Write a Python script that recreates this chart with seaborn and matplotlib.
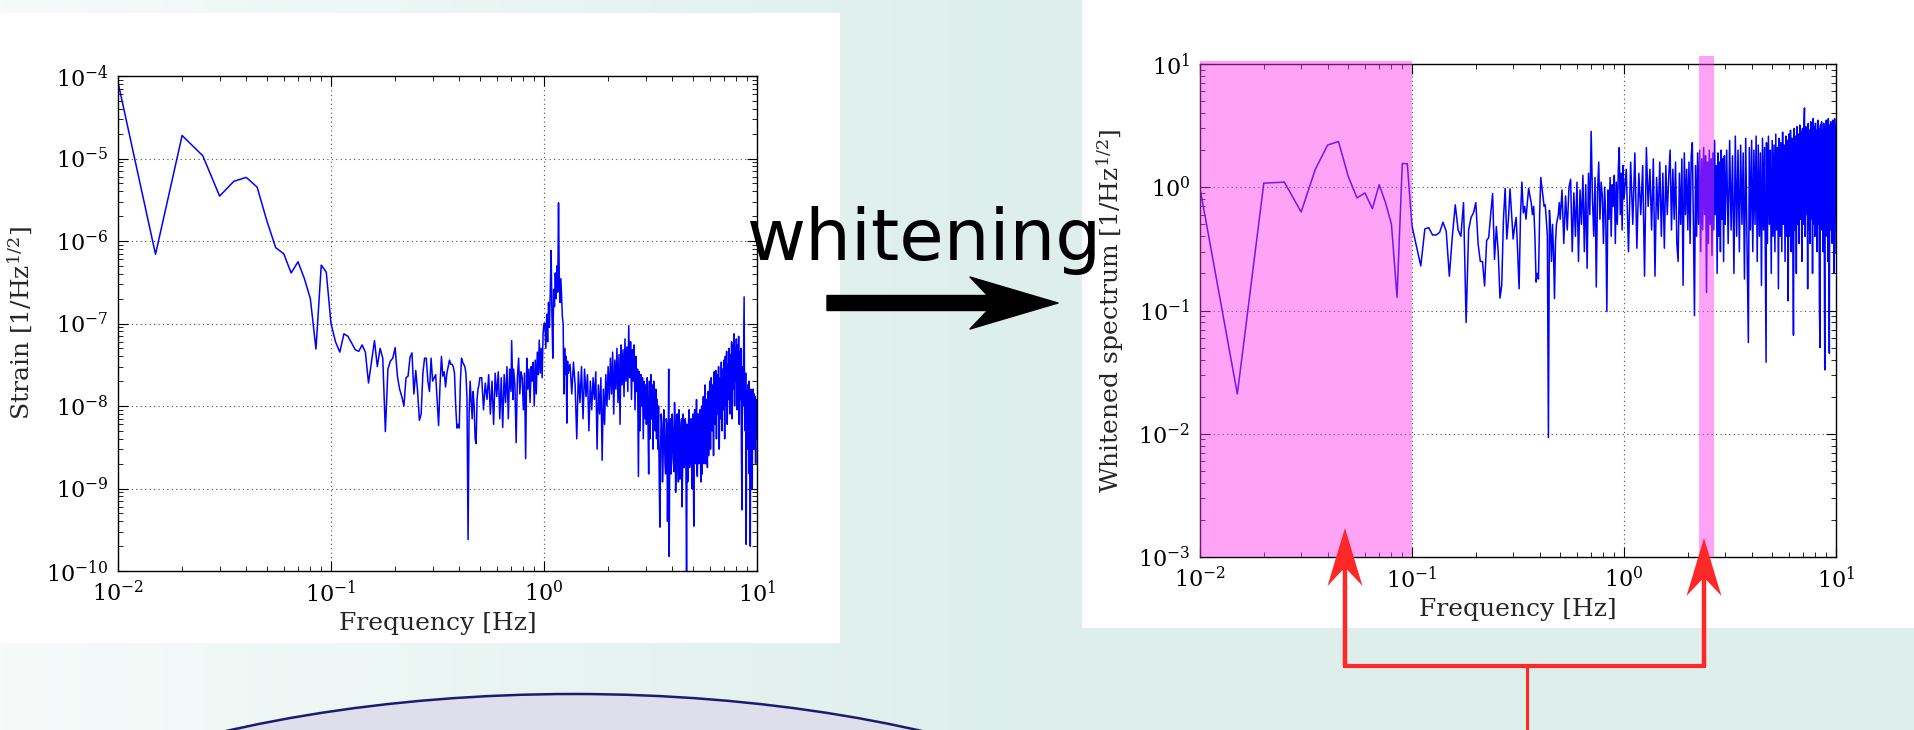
import numpy as np
import pandas as pd
import matplotlib
matplotlib.use("Agg")
import matplotlib.pyplot as plt
import seaborn as sns
from matplotlib.patches import Rectangle, Ellipse, FancyArrow
from matplotlib.ticker import LogLocator

# ----------------------------
# Data: (frequency [Hz], amplitude)
# ----------------------------
strain_low = [
    (0.010, 8.4e-5), (0.015, 6.9e-7), (0.020, 1.9e-5), (0.025, 1.08e-5), (0.030, 3.5e-6),
    (0.035, 5.3e-6), (0.040, 5.9e-6), (0.045, 4.5e-6), (0.050, 1.75e-6), (0.055, 8.3e-7),
    (0.060, 7.0e-7), (0.065, 4.1e-7), (0.070, 5.6e-7), (0.075, 3.5e-7), (0.080, 2.0e-7),
    (0.085, 4.9e-8), (0.090, 5.1e-7), (0.095, 4.2e-7), (0.100, 1.0e-7), (0.105, 6.0e-8),
    (0.110, 4.5e-8), (0.115, 7.5e-8), (0.120, 7.0e-8), (0.125, 5.8e-8), (0.130, 4.8e-8),
    (0.135, 4.6e-8), (0.140, 5.5e-8), (0.145, 4.5e-8), (0.150, 1.9e-8), (0.155, 3.5e-8),
    (0.160, 6.2e-8), (0.165, 3.0e-8), (0.170, 5.0e-8), (0.175, 3.8e-8), (0.180, 4.9e-9),
    (0.185, 2.8e-8), (0.190, 3.5e-8), (0.195, 3.8e-8), (0.200, 5.1e-8), (0.205, 2.3e-8),
    (0.210, 1.6e-8), (0.215, 1.3e-8), (0.220, 1.0e-8), (0.225, 2.2e-8), (0.230, 2.3e-8),
    (0.235, 3.9e-8), (0.240, 4.4e-8), (0.245, 1.4e-8), (0.250, 2.7e-8), (0.255, 1.5e-8),
    (0.260, 6.7e-9), (0.265, 8.0e-9), (0.270, 2.5e-8), (0.275, 3.8e-8), (0.280, 3.8e-8),
    (0.285, 2.0e-8), (0.290, 1.5e-8), (0.295, 3.8e-8), (0.300, 2.0e-8), (0.305, 2.2e-8),
    (0.310, 2.4e-8), (0.315, 1.2e-8), (0.320, 5.8e-9), (0.325, 1.8e-8), (0.330, 4.0e-8),
    (0.335, 2.3e-8), (0.340, 2.6e-8), (0.345, 1.7e-8), (0.350, 2.5e-8), (0.355, 3.0e-8),
    (0.360, 3.6e-8), (0.365, 3.2e-8), (0.370, 3.2e-8), (0.375, 3.0e-8), (0.380, 2.5e-8),
    (0.385, 1.0e-8), (0.390, 5.4e-9), (0.395, 6.0e-9), (0.400, 5.4e-9), (0.405, 2.0e-8),
    (0.410, 3.8e-8), (0.415, 3.4e-8), (0.420, 3.2e-8), (0.425, 3.0e-8), (0.430, 2.5e-8),
    (0.435, 1.2e-8), (0.440, 2.4e-10), (0.445, 8.0e-9), (0.450, 2.0e-8), (0.455, 1.2e-8),
    (0.460, 7.0e-9), (0.465, 1.5e-8), (0.470, 1.0e-8), (0.475, 4.0e-9), (0.480, 3.5e-9),
    (0.485, 1.2e-8), (0.490, 1.6e-8), (0.495, 1.8e-8), (0.500, 2.2e-8),
]
strain_mid = [
    (0.51, 2.2e-8), (0.52, 9e-9), (0.53, 1.9e-8), (0.54, 1.2e-8), (0.55, 2.4e-8),
    (0.56, 8e-9), (0.57, 2.0e-8), (0.58, 6e-9), (0.59, 2.5e-8), (0.60, 1.3e-8),
    (0.61, 2.6e-8), (0.62, 7e-9), (0.63, 2.2e-8), (0.64, 5.5e-9), (0.65, 2.4e-8),
    (0.66, 1.1e-8), (0.67, 3.0e-8), (0.68, 7e-9), (0.69, 2.8e-8), (0.70, 1.5e-8),
    (0.705, 6.2e-8), (0.715, 1.2e-8), (0.72, 2.8e-8), (0.73, 1.8e-8), (0.74, 3.6e-9),
    (0.75, 2.2e-8), (0.76, 3.8e-8), (0.77, 1.4e-8), (0.78, 2.6e-8), (0.79, 2.2e-8),
    (0.80, 9e-9), (0.81, 2.5e-8), (0.82, 2.3e-9), (0.83, 3.8e-8), (0.84, 1.6e-8),
    (0.85, 2.8e-8), (0.86, 1.1e-8), (0.87, 3.0e-8), (0.88, 2.0e-8), (0.89, 3.4e-8),
    (0.90, 1.0e-8), (0.91, 3.6e-8), (0.92, 1.4e-8), (0.93, 4.5e-8), (0.94, 2.4e-8),
    (0.95, 6.3e-8), (0.96, 2.5e-8), (0.97, 5.0e-8), (0.98, 2.2e-8), (0.99, 7.5e-8),
    (1.00, 1.0e-7),
]
strain_peak = [
    (1.01, 1.0e-7), (1.02, 5e-8), (1.03, 1.3e-7), (1.04, 6e-8), (1.05, 1.8e-7),
    (1.06, 9e-8), (1.07, 2.4e-7), (1.08, 7.7e-7), (1.09, 1.2e-7), (1.10, 3.8e-8),
    (1.11, 2.6e-7), (1.12, 1.6e-7), (1.13, 4.1e-7), (1.14, 2.0e-7), (1.15, 5.0e-7),
    (1.16, 2.4e-7), (1.17, 2.9e-6), (1.18, 3.0e-7), (1.19, 1.8e-7), (1.20, 3.5e-7),
    (1.21, 2.0e-7), (1.22, 1.2e-7), (1.23, 1.0e-7), (1.24, 1.4e-8), (1.25, 5e-8),
    (1.26, 2.4e-8), (1.27, 4e-8), (1.28, 6.2e-9), (1.29, 3.5e-8), (1.30, 2.5e-8),
]
strain_hf1 = [
    (1.325, 3.2e-8), (1.35, 1.4e-8), (1.375, 3.4e-8), (1.40, 1.8e-8), (1.425, 4e-9),
    (1.45, 2.6e-8), (1.475, 1.1e-8), (1.50, 3.0e-8), (1.525, 7e-9), (1.55, 2.8e-8),
    (1.575, 1.3e-8), (1.60, 2.4e-8), (1.625, 5e-9), (1.65, 2.0e-8), (1.675, 9e-9),
    (1.70, 2.2e-8), (1.725, 1.2e-8), (1.75, 2.6e-8), (1.775, 3e-9), (1.80, 1.8e-8),
    (1.825, 8e-9), (1.85, 2.2e-8), (1.875, 2.2e-9), (1.90, 1.6e-8), (1.925, 6e-9),
    (1.95, 2.4e-8), (1.975, 1.0e-8), (2.00, 3.0e-8), (2.025, 1.2e-8), (2.05, 3.8e-8),
    (2.075, 1.4e-8), (2.10, 4.5e-8), (2.125, 8e-9), (2.15, 3.6e-8), (2.175, 1.6e-8),
    (2.20, 5.0e-8), (2.225, 1.1e-8), (2.25, 4.2e-8), (2.275, 6e-9), (2.30, 5.5e-8),
    (2.325, 1.8e-8), (2.35, 4.8e-8), (2.375, 1.3e-8), (2.40, 6.5e-8), (2.425, 2.0e-8),
    (2.45, 5.2e-8), (2.475, 1.5e-8), (2.50, 9.4e-8), (2.525, 2.2e-8), (2.55, 6.0e-8),
    (2.575, 1.2e-8), (2.60, 4.8e-8), (2.625, 2.0e-8), (2.65, 5.5e-8), (2.675, 9e-9),
    (2.70, 4.0e-8), (2.725, 1.5e-8), (2.75, 2.8e-8), (2.775, 1.4e-9), (2.80, 2.6e-8),
    (2.825, 5e-9), (2.85, 2.4e-8), (2.875, 1.0e-8), (2.90, 2.2e-8), (2.925, 4e-9),
    (2.95, 2.0e-8), (2.975, 7e-9), (3.00, 1.8e-8), (3.025, 6e-9), (3.05, 2.2e-8),
    (3.075, 8e-9), (3.10, 1.5e-9), (3.125, 2.0e-8), (3.15, 4e-9), (3.175, 2.4e-8),
    (3.20, 7e-9), (3.225, 1.8e-8), (3.25, 3e-9), (3.275, 2.0e-8), (3.30, 6e-9),
    (3.325, 5e-9), (3.35, 1.6e-8), (3.375, 4e-9), (3.40, 1.2e-8), (3.425, 3e-9),
    (3.45, 1.0e-8), (3.475, 1.3e-9), (3.50, 3.4e-10),
]
strain_hf2 = [
    (3.55, 8e-9), (3.60, 1.2e-9), (3.65, 9e-9), (3.70, 2.0e-9), (3.75, 7e-9),
    (3.80, 4e-10), (3.85, 2.8e-8), (3.87, 1.5e-10), (3.90, 6e-9), (3.95, 1.5e-9),
    (4.00, 8e-9), (4.05, 2.2e-9), (4.10, 1.1e-8), (4.15, 9e-10), (4.20, 7e-9),
    (4.25, 2.5e-9), (4.30, 9e-9), (4.35, 1.3e-9), (4.40, 6e-9), (4.45, 6e-10),
    (4.50, 8e-9), (4.55, 1.8e-9), (4.60, 7e-9), (4.67, 8e-11), (4.70, 6e-9),
    (4.75, 1.6e-9), (4.80, 9e-9), (4.85, 2.5e-9), (4.90, 7e-9), (4.95, 1.0e-9),
    (5.00, 8e-9), (5.05, 3.5e-10), (5.10, 9e-9), (5.15, 2.0e-9), (5.20, 1.2e-8),
    (5.25, 1.4e-9), (5.30, 8e-9), (5.35, 2.4e-9), (5.40, 9e-9), (5.45, 1.2e-9),
    (5.50, 1.0e-8), (5.55, 3.0e-9), (5.60, 1.3e-8), (5.65, 2.0e-9), (5.70, 1.8e-8),
    (5.75, 3.5e-9), (5.80, 1.2e-8), (5.85, 1.8e-9), (5.90, 1.5e-8), (5.95, 4e-9),
    (6.00, 2.0e-8), (6.05, 3e-9), (6.10, 2.2e-8), (6.15, 5e-9), (6.20, 1.8e-8),
    (6.25, 2.5e-9), (6.30, 2.6e-8), (6.35, 6e-9), (6.40, 2.7e-8), (6.45, 4e-9),
    (6.50, 2.4e-8), (6.55, 8e-9), (6.60, 3.0e-8), (6.65, 3e-9), (6.70, 2.2e-8),
    (6.75, 7e-9), (6.80, 3.4e-8), (6.85, 5e-9), (6.90, 2.8e-8), (6.95, 9e-9),
    (7.00, 3.6e-8), (7.05, 4e-9), (7.10, 4.0e-8), (7.15, 1.0e-8), (7.20, 4.6e-8),
    (7.25, 6e-9), (7.30, 3.2e-8), (7.35, 1.2e-8), (7.40, 5.0e-8), (7.45, 8e-9),
    (7.50, 4.2e-8), (7.55, 1.4e-8), (7.60, 6.0e-8), (7.65, 7e-9), (7.70, 5.5e-8),
    (7.75, 1.6e-8), (7.80, 7.5e-8), (7.85, 1.0e-8), (7.90, 5.0e-8), (7.95, 2.0e-8),
    (8.00, 6.5e-8), (8.05, 9e-9), (8.10, 5.5e-8), (8.15, 1.5e-8), (8.20, 7.0e-8),
    (8.25, 6e-9), (8.30, 4.5e-8), (8.35, 1.2e-8), (8.40, 5.0e-8), (8.45, 3e-9),
    (8.50, 5.5e-10), (8.55, 3.0e-8), (8.60, 1.0e-8), (8.65, 4.0e-8), (8.70, 2.1e-7),
    (8.75, 8e-9), (8.80, 5e-9), (8.85, 2.5e-8), (8.90, 2.1e-10), (8.95, 1.5e-8),
    (9.00, 3e-9), (9.05, 1.8e-8), (9.10, 6e-9), (9.15, 2.0e-8), (9.20, 1.5e-9),
    (9.25, 1.4e-8), (9.30, 2.0e-10), (9.35, 1.6e-8), (9.40, 4e-9), (9.45, 1.2e-8),
    (9.50, 1.0e-9), (9.55, 1.5e-8), (9.60, 1.6e-8), (9.65, 3e-9), (9.70, 1.4e-8),
    (9.75, 5e-9), (9.80, 1.3e-8), (9.85, 2e-9), (9.90, 1.2e-8), (9.95, 4e-9),
    (10.0, 1.1e-8),
]
# extra bins in the 3.5-6 Hz trough, where the trace is a solid band
strain_trough = [
    (3.525, 3e-9), (3.575, 6e-9), (3.625, 2.5e-9), (3.675, 5e-9), (3.725, 1.5e-9),
    (3.775, 6e-9), (3.825, 2e-9), (3.925, 7e-9), (3.975, 2.5e-9), (4.025, 5e-9),
    (4.075, 1.6e-9), (4.125, 6e-9), (4.175, 2e-9), (4.225, 8e-9), (4.275, 1.2e-9),
    (4.325, 5e-9), (4.375, 2.5e-9), (4.425, 7e-9), (4.475, 1.8e-9), (4.525, 5e-9),
    (4.575, 2.2e-9), (4.625, 6e-9), (4.725, 1.2e-9), (4.775, 7e-9), (4.825, 1.8e-9),
    (4.875, 5e-9), (4.925, 2.5e-9), (4.975, 6e-9), (5.025, 1.5e-9), (5.075, 7e-9),
    (5.125, 2.2e-9), (5.175, 5e-9), (5.225, 1.6e-9), (5.275, 8e-9), (5.325, 2e-9),
    (5.375, 6e-9), (5.425, 2.8e-9), (5.475, 7e-9), (5.525, 1.5e-9), (5.575, 9e-9),
    (5.625, 2.5e-9), (5.675, 8e-9), (5.725, 2e-9), (5.775, 1.0e-8), (5.825, 3e-9),
    (5.875, 9e-9), (5.925, 2.5e-9), (5.975, 1.1e-8),
]

white_low = [
    (0.010, 0.98), (0.015, 0.021), (0.020, 1.08), (0.025, 1.10), (0.030, 0.63),
    (0.035, 1.40), (0.040, 2.20), (0.045, 2.35), (0.050, 1.23), (0.055, 0.82),
    (0.060, 0.90), (0.065, 0.67), (0.070, 1.05), (0.075, 0.75), (0.080, 0.50),
    (0.085, 0.128), (0.090, 1.56), (0.095, 1.55), (0.100, 0.485), (0.105, 0.33),
    (0.110, 0.23), (0.115, 0.46), (0.120, 0.47), (0.125, 0.41), (0.130, 0.41),
    (0.135, 0.43), (0.140, 0.52), (0.145, 0.44), (0.150, 0.19), (0.155, 0.40),
    (0.160, 0.72), (0.165, 0.45), (0.170, 0.40), (0.175, 0.75), (0.180, 0.08),
    (0.185, 0.45), (0.190, 0.57), (0.195, 0.62), (0.200, 0.75), (0.205, 0.35),
    (0.210, 0.25), (0.215, 0.25), (0.220, 0.158), (0.225, 0.37), (0.230, 0.39),
    (0.235, 0.60), (0.240, 0.89), (0.245, 0.26), (0.250, 0.48), (0.255, 0.30),
    (0.260, 0.126), (0.265, 0.16), (0.270, 0.55), (0.275, 0.98), (0.280, 0.38),
    (0.285, 0.55), (0.290, 0.97), (0.295, 0.60), (0.300, 0.38), (0.305, 0.48),
    (0.310, 0.57), (0.315, 0.30), (0.320, 0.15), (0.325, 0.60), (0.330, 1.10),
    (0.335, 0.62), (0.340, 0.70), (0.345, 0.55), (0.350, 0.75), (0.355, 0.98),
    (0.360, 0.85), (0.365, 0.75), (0.370, 0.60), (0.375, 0.70), (0.380, 0.40),
    (0.385, 0.17), (0.390, 0.20), (0.395, 0.18), (0.400, 0.60), (0.405, 1.20),
    (0.410, 1.00), (0.415, 0.85), (0.420, 0.70), (0.425, 0.72), (0.430, 0.55),
    (0.435, 0.40), (0.440, 0.0093), (0.445, 0.65), (0.450, 0.45), (0.455, 0.25),
    (0.460, 0.50), (0.465, 0.30), (0.470, 0.125), (0.475, 0.35), (0.480, 0.50),
    (0.485, 0.55), (0.490, 0.60), (0.495, 0.75), (0.500, 0.55),
]
white_mid = [
    (0.51, 0.95), (0.52, 0.35), (0.53, 0.85), (0.54, 0.45), (0.55, 1.0),
    (0.56, 1.16), (0.57, 0.30), (0.58, 0.90), (0.59, 0.40), (0.60, 1.10),
    (0.61, 0.25), (0.62, 0.95), (0.63, 0.50), (0.64, 1.25), (0.65, 0.30),
    (0.66, 1.05), (0.67, 0.22), (0.68, 1.30), (0.69, 0.60), (0.70, 2.84),
    (0.71, 0.80), (0.72, 0.40), (0.73, 1.20), (0.74, 0.155), (0.75, 0.90),
    (0.76, 1.60), (0.77, 0.55), (0.78, 1.10), (0.79, 0.85), (0.80, 0.35),
    (0.81, 1.00), (0.82, 0.60), (0.83, 0.098), (0.84, 0.95), (0.85, 0.55),
    (0.86, 1.20), (0.87, 0.40), (0.88, 1.05), (0.89, 0.70), (0.90, 1.25),
    (0.91, 0.35), (0.92, 1.10), (0.93, 0.50), (0.94, 1.40), (0.95, 2.10),
    (0.96, 0.60), (0.97, 1.30), (0.98, 0.45), (0.99, 1.50), (1.00, 0.80),
]
white_hf1 = [
    (1.025, 1.4), (1.05, 0.3), (1.075, 1.6), (1.10, 0.5), (1.125, 1.9),
    (1.15, 0.32), (1.175, 1.3), (1.20, 0.6), (1.225, 1.5), (1.25, 0.19),
    (1.275, 2.1), (1.30, 0.7), (1.325, 1.4), (1.35, 0.45), (1.375, 1.7),
    (1.40, 0.19), (1.425, 1.2), (1.45, 0.55), (1.475, 1.6), (1.50, 0.4),
    (1.525, 1.3), (1.55, 0.32), (1.575, 1.5), (1.60, 0.6), (1.625, 1.2),
    (1.65, 2.0), (1.675, 0.45), (1.70, 1.4), (1.725, 0.55), (1.75, 1.6),
    (1.775, 0.35), (1.80, 0.25), (1.825, 1.3), (1.85, 0.5), (1.875, 1.7),
    (1.90, 0.16), (1.925, 1.9), (1.95, 0.6), (1.975, 1.4), (2.00, 0.45),
    (2.025, 1.6), (2.05, 0.35), (2.075, 1.8), (2.10, 2.3), (2.125, 0.5),
    (2.15, 0.091), (2.175, 1.5), (2.20, 0.4), (2.225, 1.9), (2.25, 0.5),
    (2.275, 2.0), (2.30, 0.3), (2.325, 1.7), (2.35, 0.45), (2.375, 2.1),
    (2.40, 0.6), (2.425, 1.8), (2.45, 0.14), (2.475, 1.6), (2.50, 0.35),
    (2.525, 2.0), (2.55, 0.5), (2.575, 1.7), (2.60, 0.28), (2.625, 1.9),
    (2.65, 0.45), (2.675, 2.4), (2.70, 0.6), (2.725, 1.5), (2.75, 0.2),
    (2.775, 1.9), (2.80, 0.4), (2.825, 1.6), (2.85, 0.3), (2.875, 2.0),
    (2.90, 0.55), (2.925, 1.7), (2.95, 0.25), (2.975, 1.8), (3.00, 0.5),
]
white_hf2 = [
    (3.05, 2.0), (3.10, 0.35), (3.15, 2.4), (3.20, 0.45), (3.25, 1.8),
    (3.30, 0.2), (3.35, 2.6), (3.40, 0.4), (3.45, 2.0), (3.50, 0.3),
    (3.55, 2.2), (3.60, 0.5), (3.65, 1.9), (3.70, 0.18), (3.75, 2.5),
    (3.80, 0.4), (3.86, 0.055), (3.90, 2.1), (3.95, 0.45), (4.00, 2.4),
    (4.05, 0.3), (4.10, 2.0), (4.15, 0.5), (4.20, 2.6), (4.25, 0.25),
    (4.30, 2.2), (4.35, 0.4), (4.40, 1.9), (4.45, 0.16), (4.50, 2.5),
    (4.55, 0.45), (4.60, 2.1), (4.68, 0.038), (4.70, 2.3), (4.75, 0.35),
    (4.80, 2.6), (4.85, 0.5), (4.90, 2.0), (4.95, 0.2), (5.00, 2.4),
    (5.05, 0.4), (5.10, 2.2), (5.15, 0.3), (5.20, 2.7), (5.25, 0.45),
    (5.30, 2.1), (5.35, 0.15), (5.40, 2.5), (5.45, 0.4), (5.50, 2.3),
    (5.55, 0.3), (5.60, 2.8), (5.65, 0.5), (5.70, 2.2), (5.75, 0.25),
    (5.80, 2.6), (5.85, 0.4), (5.90, 2.4), (5.95, 0.12), (6.00, 2.7),
    (6.05, 0.4), (6.10, 2.9), (6.15, 0.3), (6.20, 2.5), (6.25, 0.5),
    (6.30, 0.063), (6.35, 3.0), (6.40, 0.45), (6.45, 2.6), (6.50, 0.2),
    (6.55, 3.1), (6.60, 0.5), (6.65, 2.7), (6.70, 0.35), (6.75, 3.2),
    (6.80, 0.55), (6.85, 2.8), (6.90, 0.25), (6.95, 3.0), (7.00, 0.5),
    (7.05, 2.9), (7.10, 4.4), (7.15, 0.4), (7.20, 3.1), (7.25, 0.6),
    (7.30, 2.8), (7.35, 0.15), (7.40, 3.3), (7.45, 0.45), (7.50, 2.9),
    (7.55, 0.35), (7.60, 3.4), (7.65, 0.55), (7.70, 3.0), (7.75, 0.2),
    (7.80, 3.6), (7.85, 0.5), (7.90, 3.1), (7.95, 0.4), (8.00, 3.3),
    (8.05, 0.6), (8.10, 2.9), (8.15, 0.3), (8.20, 3.5), (8.25, 0.5),
    (8.30, 3.0), (8.35, 0.12), (8.40, 0.05), (8.45, 3.2), (8.50, 0.45),
    (8.55, 3.4), (8.60, 0.6), (8.65, 2.9), (8.70, 0.3), (8.75, 3.3),
    (8.80, 0.5), (8.85, 0.033), (8.90, 3.1), (8.95, 0.4), (9.00, 3.5),
    (9.05, 0.55), (9.10, 3.0), (9.15, 0.25), (9.20, 3.6), (9.25, 0.5),
    (9.30, 0.045), (9.35, 3.2), (9.40, 0.45), (9.45, 3.4), (9.50, 0.6),
    (9.55, 3.0), (9.60, 0.35), (9.65, 3.5), (9.70, 0.5), (9.75, 3.1),
    (9.80, 0.2), (9.85, 3.6), (9.90, 0.55), (9.95, 3.2), (10.0, 0.29),
]

# frequency bands masked on the whitened spectrum
mask_bands = [(0.01, 0.1), (2.26, 2.66)]

W, H = 1915, 730

sns.set_theme(style="ticks")
plt.rcParams["font.family"] = ["DejaVu Serif"]
plt.rcParams["mathtext.fontset"] = "dejavuserif"

fig = plt.figure(figsize=(W / 100, H / 100), dpi=100)

# ----------------------------
# slide background
# ----------------------------
bg = fig.add_axes([0, 0, 1, 1], zorder=-5)
ramp = np.clip(np.linspace(0, 1, 400) * 1.9, 0, 1)
light = np.array([0.965, 0.984, 0.980])
teal = np.array([0.867, 0.937, 0.922])
grad = light[None, :] + (teal - light)[None, :] * ramp[:, None]
bg.imshow(grad[None, :, :], extent=(0, W, H, 0), aspect="auto")
bg.add_patch(Rectangle((0, 13), 840, 630, facecolor="white", lw=0))
bg.add_patch(Rectangle((1082, 0), 833, 628, facecolor="white", lw=0))
bg.add_patch(Ellipse((574, 974), 1400, 560, facecolor="#dfdfeb",
                     edgecolor="#1c1c6e", lw=1.8))
bg.set_xlim(0, W)
bg.set_ylim(H, 0)
bg.axis("off")


def style_log_axes(ax, ylim):
    ax.set_xscale("log")
    ax.set_yscale("log")
    ax.set_xlim(1e-2, 1e1)
    ax.set_ylim(*ylim)
    ax.yaxis.set_major_locator(LogLocator(base=10, numticks=20))
    ax.yaxis.set_minor_locator(LogLocator(base=10, subs=np.arange(2, 10), numticks=20))
    ax.tick_params(which="both", direction="in", top=True, right=True,
                   colors="black", labelsize=16, pad=7)
    ax.tick_params(which="major", length=7, width=0.8)
    ax.tick_params(which="minor", length=3.5, width=0.6)
    ax.grid(True, which="major", color="0.3", ls=(0, (1, 3)), lw=0.8)
    for s in ax.spines.values():
        s.set_color("black")
        s.set_linewidth(1.0)
    ax.set_facecolor("white")


# ----------------------------
# A) raw strain spectrum
# ----------------------------
strain_df = pd.DataFrame(strain_low + strain_mid + strain_peak + strain_hf1
                         + strain_hf2 + strain_trough, columns=["freq", "amp"])
ax1 = fig.add_axes([118 / W, (H - 571) / H, 639 / W, 495 / H])
style_log_axes(ax1, (1e-10, 1e-4))
sns.lineplot(data=strain_df, x="freq", y="amp", ax=ax1, color="blue", lw=1.1,
             estimator=None, sort=True)
ax1.set_xlabel("Frequency [Hz]", fontsize=18)
ax1.set_ylabel(r"Strain [1/Hz$^{1/2}$]", fontsize=18)
ax1.xaxis.set_label_coords(0.5, -0.083)
ax1.yaxis.set_label_coords(-0.131, 0.5)

# ----------------------------
# B) whitened spectrum
# ----------------------------
white_df = pd.DataFrame(white_low + white_mid + white_hf1 + white_hf2,
                        columns=["freq", "amp"])
ax2 = fig.add_axes([1200 / W, (H - 557) / H, 636 / W, 493 / H])
style_log_axes(ax2, (1e-3, 1e1))
sns.lineplot(data=white_df, x="freq", y="amp", ax=ax2, color="blue", lw=1.1,
             estimator=None, sort=True)
for (lo, hi), top in zip(mask_bands, [1.006, 1.016]):
    ax2.axvspan(lo, hi, ymin=0, ymax=top, facecolor="#ff33ee", alpha=0.45,
                lw=0, zorder=3, clip_on=False)
ax2.set_xlabel("Frequency [Hz]", fontsize=18)
ax2.set_ylabel(r"Whitened spectrum [1/Hz$^{1/2}$]", fontsize=18)
ax2.xaxis.set_label_coords(0.5, -0.083)
ax2.yaxis.set_label_coords(-0.116, 0.5)

# ----------------------------
# annotations on top of everything
# ----------------------------
ov = fig.add_axes([0, 0, 1, 1], zorder=10)
ov.set_xlim(0, W)
ov.set_ylim(H, 0)
ov.axis("off")

ov.text(747, 260, "whitening", fontsize=52, family=["DejaVu Sans"],
        ha="left", va="baseline", color="black")
ov.add_patch(FancyArrow(827, 303, 231, 0, width=15, head_width=52, head_length=88,
                        overhang=0.2, length_includes_head=True, color="black",
                        lw=1, joinstyle="round"))

red = "#ff2828"
ov.add_patch(FancyArrow(1345, 666, 0, -138, width=4.5, head_width=35, head_length=58,
                        overhang=0.28, length_includes_head=True, color=red, lw=0))
ov.add_patch(FancyArrow(1704, 666, 0, -128, width=4.5, head_width=35, head_length=58,
                        overhang=0.28, length_includes_head=True, color=red, lw=0))
ov.plot([1343, 1706], [666, 666], color=red, lw=3, solid_capstyle="butt")
ov.plot([1527, 1527], [666, 730], color=red, lw=2.2, solid_capstyle="butt")

fig.savefig("out.png", dpi=100)
plt.close(fig)
